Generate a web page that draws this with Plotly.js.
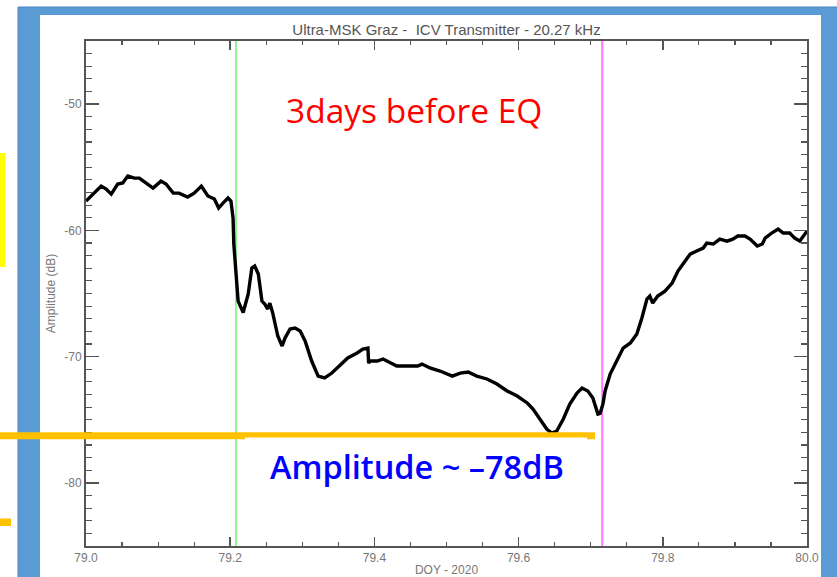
<!DOCTYPE html>
<html>
<head>
<meta charset="utf-8">
<script src="https://cdn.plot.ly/plotly-3.0.1.min.js"></script>
<style>html,body{margin:0;padding:0;background:#fff;}#chart{width:837px;height:577px;}</style>
</head>
<body>
<div id="chart"></div>
<script>
// DOY - 2020
const doy = [79.000,79.007,79.021,79.028,79.035,79.044,79.051,79.058,79.067,79.074,79.083,79.093,79.104,79.111,79.121,79.129,79.141,79.150,79.160,79.169,79.178,79.184,79.190,79.197,79.201,79.204,79.205,79.208,79.211,79.218,79.225,79.230,79.234,79.239,79.244,79.248,79.252,79.255,79.259,79.266,79.272,79.276,79.283,79.290,79.297,79.304,79.313,79.322,79.331,79.341,79.352,79.363,79.376,79.384,79.391,79.392,79.394,79.404,79.412,79.422,79.431,79.445,79.460,79.466,79.477,79.491,79.508,79.519,79.530,79.542,79.556,79.570,79.584,79.598,79.612,79.620,79.630,79.639,79.646,79.653,79.662,79.671,79.681,79.688,79.696,79.703,79.710,79.713,79.717,79.720,79.727,79.736,79.745,79.755,79.764,79.771,79.778,79.782,79.786,79.793,79.803,79.813,79.821,79.831,79.838,79.847,79.856,79.861,79.870,79.879,79.889,79.897,79.904,79.914,79.921,79.931,79.938,79.942,79.951,79.960,79.967,79.976,79.983,79.990,79.997,80.000];
// Amplitude (dB)
const amplitude = [-57.68,-57.28,-56.49,-56.73,-57.13,-56.33,-56.25,-55.70,-55.86,-55.86,-56.25,-56.65,-56.10,-56.33,-57.05,-57.05,-57.36,-57.05,-56.49,-57.28,-57.52,-58.23,-57.84,-57.44,-57.68,-59.03,-61.08,-63.78,-65.60,-66.50,-65.04,-62.98,-62.83,-63.46,-65.60,-65.84,-66.23,-65.76,-66.55,-68.37,-69.16,-68.53,-67.81,-67.74,-67.97,-68.77,-70.35,-71.54,-71.69,-71.30,-70.74,-70.11,-69.71,-69.40,-69.32,-70.51,-70.35,-70.35,-70.19,-70.51,-70.74,-70.74,-70.74,-70.59,-70.90,-71.14,-71.54,-71.30,-71.22,-71.54,-71.77,-72.17,-72.72,-73.12,-73.67,-74.15,-74.94,-75.73,-76.05,-75.89,-74.94,-73.75,-72.88,-72.49,-72.72,-73.28,-74.55,-74.50,-73.75,-72.72,-71.38,-70.35,-69.32,-68.92,-68.21,-66.94,-65.44,-65.20,-65.76,-65.20,-64.81,-64.17,-63.22,-62.43,-61.88,-61.64,-61.40,-61.01,-61.08,-60.69,-60.85,-60.69,-60.45,-60.45,-60.69,-61.24,-61.08,-60.61,-60.21,-59.90,-60.21,-60.21,-60.61,-60.85,-60.21,-60.06];
// Vertical markers (DOY)
const markerGreen = 79.208;
const markerMagenta = 79.716;
const yRange = [-85, -45];
const xTicks = [79.0, 79.2, 79.4, 79.6, 79.8, 80.0];
const xTickLabels = ['79.0', '79.2', '79.4', '79.6', '79.8', '80.0'];
const yTicks = [-80, -70, -60, -50];
const yTickLabels = ['-80', '-70', '-60', '-50'];

const traces = [
  {x: [markerGreen, markerGreen], y: yRange, mode: 'lines', line: {color: '#6cf46c', width: 1.5}, hoverinfo: 'skip'},
  {x: [markerMagenta, markerMagenta], y: yRange, mode: 'lines', line: {color: '#ff77ff', width: 2}, hoverinfo: 'skip'},
  {x: doy, y: amplitude, mode: 'lines', line: {color: '#000', width: 3.4}}
];

const L = 86, R = 807, T = 41, B = 546;
const px = v => (v - L) / (R - L);
const py = v => (B - v) / (B - T);

const axisFont = {family: 'Liberation Sans, Arial, sans-serif', size: 12, color: '#777'};
const layout = {
  width: 837, height: 577,
  margin: {l: L, r: 837 - R, t: T, b: 577 - B, pad: 0},
  paper_bgcolor: '#fff', plot_bgcolor: '#fff',
  showlegend: false,
  title: {text: 'Ultra-MSK Graz -  ICV Transmitter - 20.27 kHz', font: {family: 'Liberation Sans, Arial, sans-serif', size: 15, color: '#555'}, x: 0.5, xref: 'paper', y: 1 - 30 / 577, yref: 'container', yanchor: 'middle'},
  xaxis: {
    range: [79.0, 80.0], tickvals: xTicks, ticktext: xTickLabels, ticks: 'inside', ticklen: 9, tickwidth: 1.5, tickcolor: '#555',
    minor: {dtick: 0.05, ticks: 'inside', ticklen: 4, tickwidth: 1.2, tickcolor: '#555'},
    showline: true, linecolor: '#555', linewidth: 2, mirror: 'ticks', showgrid: false, zeroline: false,
    tickfont: axisFont,
    title: {text: 'DOY - 2020', font: axisFont, standoff: 3}
  },
  yaxis: {
    range: yRange, tickvals: yTicks, ticktext: yTickLabels, ticks: 'inside', ticklen: 13, tickwidth: 1.5, tickcolor: '#555',
    minor: {dtick: 1, ticks: 'inside', ticklen: 6, tickwidth: 1.2, tickcolor: '#555'},
    showline: true, linecolor: '#555', linewidth: 2, mirror: 'ticks', showgrid: false, zeroline: false,
    tickfont: axisFont,
    title: {text: 'Amplitude (dB)', font: axisFont, standoff: 6}
  },
  shapes: [
    {type: 'rect', xref: 'paper', yref: 'paper', layer: 'below', x0: px(18), x1: px(845), y0: py(600), y1: py(7), fillcolor: '#5b9bd5', line: {color: '#4a86c0', width: 1}},
    {type: 'rect', xref: 'paper', yref: 'paper', layer: 'below', x0: px(40), x1: px(821), y0: py(600), y1: py(15), fillcolor: '#fff', line: {width: 0}},
    {type: 'line', xref: 'paper', yref: 'paper', x0: px(0), x1: px(595), y0: py(435.8), y1: py(435.8), line: {color: '#ffc000', width: 7}},
    {type: 'rect', xref: 'paper', yref: 'paper', x0: px(245), x1: px(587), y0: py(495), y1: py(437.5), fillcolor: '#fff', line: {width: 0}},
    {type: 'rect', xref: 'paper', yref: 'paper', x0: px(0), x1: px(5.3), y0: py(267), y1: py(153), fillcolor: '#ffff00', line: {width: 0}},
    {type: 'rect', xref: 'paper', yref: 'paper', x0: px(0), x1: px(11), y0: py(526), y1: py(518.5), fillcolor: '#ffc000', line: {width: 0}}
  ],
  annotations: [
    {text: '3days before EQ', xref: 'paper', yref: 'paper', x: px(414), y: py(110), xanchor: 'center', yanchor: 'middle', showarrow: false, font: {family: 'Open Sans, sans-serif', size: 33.5, color: '#ff0000'}},
    {text: 'Amplitude ~ –78dB', xref: 'paper', yref: 'paper', x: px(416.5), y: py(466), xanchor: 'center', yanchor: 'middle', showarrow: false, font: {family: 'Open Sans, sans-serif', size: 32.5, color: '#0000ff', weight: 600}}
  ]
};

Plotly.newPlot('chart', traces, layout, {displayModeBar: false, staticPlot: true});
</script>
</body>
</html>
